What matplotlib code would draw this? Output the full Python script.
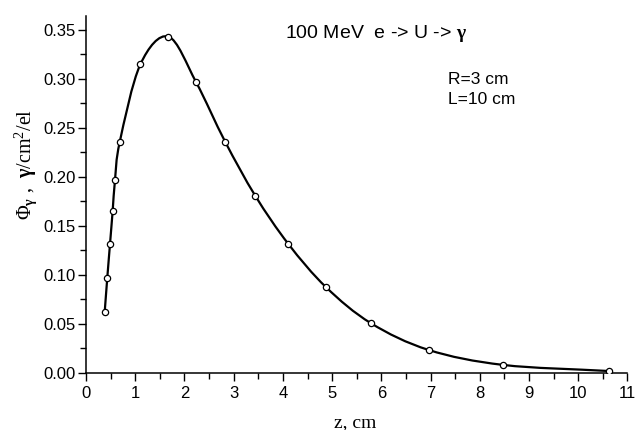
import numpy as np
import matplotlib
matplotlib.use("Agg")
import matplotlib.pyplot as plt
from matplotlib.path import Path
from matplotlib.patches import PathPatch
from matplotlib.ticker import MultipleLocator, FormatStrFormatter

plt.rcParams["mathtext.fontset"] = "custom"
plt.rcParams["mathtext.rm"] = "Liberation Serif"
plt.rcParams["mathtext.it"] = "Liberation Serif:italic"
plt.rcParams["mathtext.bf"] = "Liberation Serif:bold"

# depth z (cm) and photon flux per electron
z = [0.38, 0.433, 0.488, 0.542, 0.589, 0.685, 1.104, 1.673, 2.236, 2.825,
     3.44, 4.11, 4.878, 5.79, 6.96, 8.48, 10.62]
flux = [0.0622, 0.0973, 0.1316, 0.1653, 0.1966, 0.2354, 0.3146, 0.343, 0.2966,
        0.236, 0.1806, 0.1316, 0.0874, 0.0507, 0.0235, 0.0082, 0.002]

fig = plt.figure(figsize=(6.36, 4.30), dpi=100)
ax = fig.add_axes([0.1352, 0.1326, 0.8514, 0.8302])

# smooth curve through the points (Catmull-Rom as cubic Bezier segments)
P = np.column_stack([z, flux])
n = len(P)
T = np.zeros_like(P)
T[1:-1] = (P[2:] - P[:-2]) / 2
T[0] = P[1] - P[0]
T[-1] = P[-1] - P[-2]
verts = [tuple(P[0])]
codes = [Path.MOVETO]
for i in range(n - 1):
    verts += [tuple(P[i] + T[i] / 3), tuple(P[i + 1] - T[i + 1] / 3), tuple(P[i + 1])]
    codes += [Path.CURVE4] * 3
ax.add_patch(PathPatch(Path(verts, codes), facecolor="none", edgecolor="black", lw=1.6))
ax.plot(z, flux, "o", ms=4.5, mfc="white", mec="black", mew=0.9, zorder=3)

ax.set_xlim(0, 11)
ax.set_ylim(0, 0.364)
ax.spines["top"].set_visible(False)
ax.spines["right"].set_visible(False)
for s in ("left", "bottom"):
    ax.spines[s].set_linewidth(1.1)

ax.xaxis.set_major_locator(MultipleLocator(1))
ax.xaxis.set_minor_locator(MultipleLocator(0.5))
ax.yaxis.set_major_locator(MultipleLocator(0.05))
ax.yaxis.set_minor_locator(MultipleLocator(0.025))
ax.yaxis.set_major_formatter(FormatStrFormatter("%.2f"))
ax.tick_params(which="major", direction="out", length=6, width=1.0, labelsize=12)
ax.tick_params(which="minor", direction="out", length=4, width=1.0)
ax.tick_params(axis="y", pad=1.5)
for lab in ax.get_xticklabels() + ax.get_yticklabels():
    lab.set_fontfamily("Liberation Sans")

ax.set_xlabel("z, cm", fontfamily="Liberation Serif", fontsize=14, va="center")
ax.xaxis.set_label_coords(0.497, -0.14)
ax.set_ylabel(r"$\Phi_{\mathbf{\gamma}}$ ,  $\mathbf{\gamma}$/cm$^2$/el",
              fontfamily="Liberation Serif", fontsize=14.5, va="center")
ax.yaxis.set_label_coords(-0.111, 0.583)

fig.text(285 / 636, 1 - 33 / 430, r"100 MeV  e -> U -> $\mathbf{\gamma}$",
         fontfamily="Liberation Sans", fontsize=14, va="center")
fig.text(448 / 636, 1 - 79 / 430, "R=3 cm", fontfamily="Liberation Sans",
         fontsize=12.5, va="center")
fig.text(448 / 636, 1 - 100 / 430, "L=10 cm", fontfamily="Liberation Sans",
         fontsize=12.5, va="center")

fig.savefig("out.png", dpi=100)
